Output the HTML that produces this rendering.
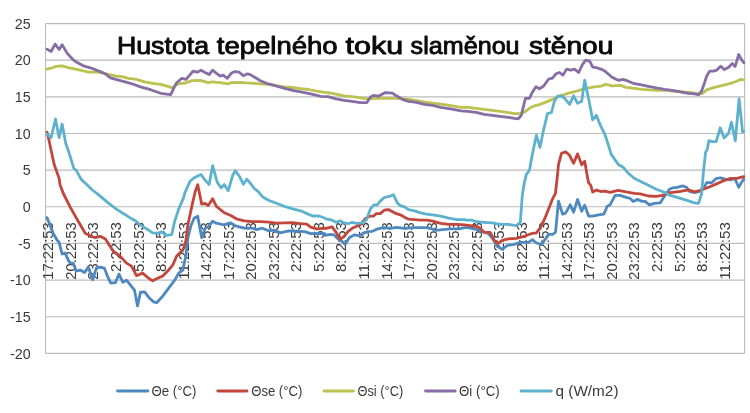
<!DOCTYPE html>
<html lang="cs"><head><meta charset="utf-8"><title>Hustota tepelného toku slaměnou stěnou</title>
<style>
html,body{margin:0;padding:0;background:#fff;}
body{width:750px;height:413px;overflow:hidden;position:relative;}
svg{position:absolute;left:0;top:0;display:block;will-change:transform;}
text{font-family:"Liberation Sans",Arial,sans-serif;fill:#3a3a3a;}
.ax{font-size:14px;}
.ay{font-size:14.3px;}
.title{font-size:24.6px;font-weight:normal;fill:#0a0a0a;stroke:#0a0a0a;stroke-width:0.9px;stroke-linejoin:round;}
.ser{fill:none;stroke-width:2.8;stroke-linejoin:round;stroke-linecap:round;}
.grid{stroke:#bcbcbc;stroke-width:1.15;fill:none;}
</style></head><body>
<svg width="750" height="413" viewBox="0 0 750 413">
<path class="grid" d="M45.5 23.55H744.6 M45.5 60.19H744.6 M45.5 96.84H744.6 M45.5 133.48H744.6 M45.5 170.13H744.6 M45.5 206.77H744.6 M45.5 243.42H744.6 M45.5 280.06H744.6 M45.5 316.71H744.6 M45.5 353.35H744.6 M45.5 23.55V353.35 M744.6 23.55V353.35"/>
<text class="ax ay" x="30.6" y="28.75" text-anchor="end">25</text>
<text class="ax ay" x="30.6" y="65.39" text-anchor="end">20</text>
<text class="ax ay" x="30.6" y="102.04" text-anchor="end">15</text>
<text class="ax ay" x="30.6" y="138.68" text-anchor="end">10</text>
<text class="ax ay" x="30.6" y="175.33" text-anchor="end">5</text>
<text class="ax ay" x="30.6" y="211.97" text-anchor="end">0</text>
<text class="ax ay" x="30.6" y="248.62" text-anchor="end">-5</text>
<text class="ax ay" x="30.6" y="285.26" text-anchor="end">-10</text>
<text class="ax ay" x="30.6" y="321.91" text-anchor="end">-15</text>
<text class="ax ay" x="30.6" y="358.55" text-anchor="end">-20</text>
<text class="ax" transform="translate(53.40 222.2) rotate(-90)" text-anchor="end" textLength="57.6" lengthAdjust="spacingAndGlyphs">17:22:53</text>
<text class="ax" transform="translate(75.94 222.2) rotate(-90)" text-anchor="end" textLength="57.6" lengthAdjust="spacingAndGlyphs">20:22:53</text>
<text class="ax" transform="translate(98.48 222.2) rotate(-90)" text-anchor="end" textLength="57.6" lengthAdjust="spacingAndGlyphs">23:22:53</text>
<text class="ax" transform="translate(121.02 222.2) rotate(-90)" text-anchor="end" textLength="49.9" lengthAdjust="spacingAndGlyphs">2:22:53</text>
<text class="ax" transform="translate(143.56 222.2) rotate(-90)" text-anchor="end" textLength="49.9" lengthAdjust="spacingAndGlyphs">5:22:53</text>
<text class="ax" transform="translate(166.10 222.2) rotate(-90)" text-anchor="end" textLength="49.9" lengthAdjust="spacingAndGlyphs">8:22:53</text>
<text class="ax" transform="translate(188.64 222.2) rotate(-90)" text-anchor="end" textLength="57.6" lengthAdjust="spacingAndGlyphs">11:22:53</text>
<text class="ax" transform="translate(211.18 222.2) rotate(-90)" text-anchor="end" textLength="57.6" lengthAdjust="spacingAndGlyphs">14:22:53</text>
<text class="ax" transform="translate(233.72 222.2) rotate(-90)" text-anchor="end" textLength="57.6" lengthAdjust="spacingAndGlyphs">17:22:53</text>
<text class="ax" transform="translate(256.26 222.2) rotate(-90)" text-anchor="end" textLength="57.6" lengthAdjust="spacingAndGlyphs">20:22:53</text>
<text class="ax" transform="translate(278.80 222.2) rotate(-90)" text-anchor="end" textLength="57.6" lengthAdjust="spacingAndGlyphs">23:22:53</text>
<text class="ax" transform="translate(301.34 222.2) rotate(-90)" text-anchor="end" textLength="49.9" lengthAdjust="spacingAndGlyphs">2:22:53</text>
<text class="ax" transform="translate(323.88 222.2) rotate(-90)" text-anchor="end" textLength="49.9" lengthAdjust="spacingAndGlyphs">5:22:53</text>
<text class="ax" transform="translate(346.42 222.2) rotate(-90)" text-anchor="end" textLength="49.9" lengthAdjust="spacingAndGlyphs">8:22:53</text>
<text class="ax" transform="translate(368.96 222.2) rotate(-90)" text-anchor="end" textLength="57.6" lengthAdjust="spacingAndGlyphs">11:22:53</text>
<text class="ax" transform="translate(391.50 222.2) rotate(-90)" text-anchor="end" textLength="57.6" lengthAdjust="spacingAndGlyphs">14:22:53</text>
<text class="ax" transform="translate(414.04 222.2) rotate(-90)" text-anchor="end" textLength="57.6" lengthAdjust="spacingAndGlyphs">17:22:53</text>
<text class="ax" transform="translate(436.58 222.2) rotate(-90)" text-anchor="end" textLength="57.6" lengthAdjust="spacingAndGlyphs">20:22:53</text>
<text class="ax" transform="translate(459.12 222.2) rotate(-90)" text-anchor="end" textLength="57.6" lengthAdjust="spacingAndGlyphs">23:22:53</text>
<text class="ax" transform="translate(481.66 222.2) rotate(-90)" text-anchor="end" textLength="49.9" lengthAdjust="spacingAndGlyphs">2:22:53</text>
<text class="ax" transform="translate(504.20 222.2) rotate(-90)" text-anchor="end" textLength="49.9" lengthAdjust="spacingAndGlyphs">5:22:53</text>
<text class="ax" transform="translate(526.74 222.2) rotate(-90)" text-anchor="end" textLength="49.9" lengthAdjust="spacingAndGlyphs">8:22:53</text>
<text class="ax" transform="translate(549.28 222.2) rotate(-90)" text-anchor="end" textLength="57.6" lengthAdjust="spacingAndGlyphs">11:22:53</text>
<text class="ax" transform="translate(571.82 222.2) rotate(-90)" text-anchor="end" textLength="57.6" lengthAdjust="spacingAndGlyphs">14:22:53</text>
<text class="ax" transform="translate(594.36 222.2) rotate(-90)" text-anchor="end" textLength="57.6" lengthAdjust="spacingAndGlyphs">17:22:53</text>
<text class="ax" transform="translate(616.90 222.2) rotate(-90)" text-anchor="end" textLength="57.6" lengthAdjust="spacingAndGlyphs">20:22:53</text>
<text class="ax" transform="translate(639.44 222.2) rotate(-90)" text-anchor="end" textLength="57.6" lengthAdjust="spacingAndGlyphs">23:22:53</text>
<text class="ax" transform="translate(661.98 222.2) rotate(-90)" text-anchor="end" textLength="49.9" lengthAdjust="spacingAndGlyphs">2:22:53</text>
<text class="ax" transform="translate(684.52 222.2) rotate(-90)" text-anchor="end" textLength="49.9" lengthAdjust="spacingAndGlyphs">5:22:53</text>
<text class="ax" transform="translate(707.06 222.2) rotate(-90)" text-anchor="end" textLength="49.9" lengthAdjust="spacingAndGlyphs">8:22:53</text>
<text class="ax" transform="translate(729.60 222.2) rotate(-90)" text-anchor="end" textLength="57.6" lengthAdjust="spacingAndGlyphs">11:22:53</text>
<path class="ser" stroke="#4d89c0" d="M47.0 217.6 L50.1 225.2 L53.1 233.3 L57.1 240.3 L59.1 242.3 L62.1 254.0 L65.1 253.0 L68.2 260.1 L70.2 263.1 L73.2 263.1 L76.2 271.1 L80.2 270.1 L84.6 272.5 L88.3 267.1 L92.7 279.8 L96.3 268.1 L100.3 267.1 L104.3 268.1 L107.4 276.1 L110.8 283.2 L115.4 282.6 L119.0 274.1 L122.8 282.2 L126.5 280.2 L130.5 285.2 L134.5 290.2 L137.5 305.9 L140.5 292.2 L144.6 291.8 L149.6 298.3 L153.6 301.9 L156.6 302.7 L162.7 296.2 L168.7 288.2 L174.7 280.2 L178.7 273.1 L182.8 270.1 L185.8 256.0 L188.0 237.3 L191.1 225.2 L194.1 218.2 L197.7 216.2 L201.7 237.7 L205.1 228.2 L208.2 226.8 L212.6 221.2 L216.2 223.2 L224.2 224.8 L230.3 222.8 L236.3 226.2 L244.3 228.2 L252.4 228.2 L256.4 229.6 L262.4 228.2 L268.5 230.8 L274.5 230.2 L280.5 232.9 L288.6 230.8 L296.6 231.2 L304.7 231.7 L310.7 233.7 L318.7 233.3 L324.8 233.7 L325.0 235.3 L330.1 234.3 L334.1 234.9 L338.1 238.9 L342.1 241.4 L345.1 244.4 L349.2 237.7 L354.2 234.9 L359.2 235.7 L363.2 233.3 L367.3 231.7 L372.3 231.3 L377.3 228.9 L384.3 227.7 L390.4 228.3 L396.4 227.3 L404.5 228.3 L412.5 227.7 L420.5 227.7 L428.6 227.7 L435.6 230.3 L442.7 229.7 L450.7 228.9 L458.7 228.9 L464.8 227.7 L468.0 227.7 L476.1 229.3 L482.1 231.7 L488.2 233.3 L493.2 239.3 L497.2 246.4 L502.2 249.4 L507.3 245.4 L514.3 244.4 L520.3 242.4 L528.4 242.4 L532.4 239.7 L536.4 243.0 L541.4 244.4 L545.5 238.9 L548.5 234.3 L552.5 234.3 L555.5 232.3 L558.5 201.1 L562.6 214.2 L565.6 213.2 L570.2 204.8 L573.6 212.2 L577.6 199.5 L581.7 211.2 L584.7 205.2 L588.7 216.2 L592.7 216.2 L598.7 214.8 L603.8 214.2 L606.8 207.2 L607.0 206.4 L610.1 204.8 L615.1 195.4 L620.1 195.4 L626.1 197.4 L630.2 198.4 L633.2 201.4 L637.2 199.4 L642.2 201.4 L645.2 201.4 L649.3 204.8 L654.3 203.4 L660.3 202.8 L664.3 196.4 L669.4 189.3 L672.4 187.9 L677.4 187.3 L682.4 185.9 L686.5 187.3 L689.5 191.3 L694.5 192.7 L699.5 191.3 L703.6 188.3 L706.6 182.7 L711.6 182.7 L716.6 178.3 L720.7 177.9 L725.7 179.3 L730.7 179.9 L734.7 178.3 L738.7 187.3 L741.8 181.9 L743.8 179.3"/>
<path class="ser" stroke="#c3463c" d="M47.0 132.1 L49.0 140.2 L51.1 150.2 L54.1 164.3 L59.1 178.4 L60.1 185.0 L63.1 193.0 L70.2 207.1 L78.2 221.2 L85.2 233.3 L91.3 236.3 L95.3 237.7 L100.3 236.3 L105.4 238.9 L109.4 245.3 L113.4 251.4 L119.4 255.4 L126.5 263.1 L131.5 266.1 L136.5 275.7 L142.6 273.1 L148.6 278.2 L152.6 280.8 L157.6 278.2 L162.7 276.1 L167.7 271.1 L172.7 265.1 L176.7 256.0 L180.8 252.0 L182.8 250.4 L185.8 241.3 L187.8 225.2 L192.1 205.1 L195.1 192.0 L197.7 184.6 L201.7 204.1 L205.1 203.5 L208.2 205.5 L212.6 198.7 L216.2 206.1 L220.2 209.5 L224.2 212.7 L230.3 215.2 L236.3 218.8 L244.3 220.8 L252.4 221.6 L260.4 221.6 L268.5 222.2 L276.5 223.2 L284.6 222.8 L292.6 222.6 L300.7 223.6 L306.7 224.2 L310.7 227.2 L316.7 228.8 L324.8 228.2 L326.0 228.3 L332.1 226.9 L336.1 232.3 L340.1 239.3 L344.1 236.3 L348.2 231.3 L353.2 227.7 L360.2 224.9 L365.2 218.8 L369.3 216.2 L373.3 216.2 L376.3 213.6 L380.3 213.6 L384.3 210.2 L388.4 209.6 L394.4 212.8 L400.4 214.8 L404.5 217.2 L408.5 219.2 L414.5 219.6 L420.5 220.2 L426.6 220.2 L432.6 221.2 L440.7 223.3 L448.7 224.3 L456.7 224.3 L464.8 224.9 L468.0 225.3 L476.1 226.3 L480.1 228.3 L484.1 232.3 L490.2 232.3 L494.2 240.4 L498.2 243.4 L502.2 240.4 L508.3 238.9 L516.3 238.3 L524.3 236.3 L532.4 233.3 L536.4 232.9 L540.4 227.7 L544.5 219.2 L548.5 209.2 L552.5 199.1 L555.5 193.1 L557.5 175.0 L558.5 164.3 L561.5 153.3 L565.6 151.9 L569.6 155.3 L573.6 163.3 L577.6 153.9 L581.7 164.7 L584.7 161.3 L587.7 178.4 L588.7 183.0 L590.7 185.1 L592.7 192.1 L596.7 190.1 L600.8 191.5 L604.8 191.1 L610.1 192.3 L618.1 190.3 L626.1 191.9 L634.2 193.3 L640.2 193.9 L648.3 196.0 L656.3 196.4 L662.3 195.4 L670.4 192.7 L680.4 191.3 L688.5 189.9 L694.5 191.9 L700.5 190.3 L708.6 187.3 L716.6 183.9 L724.7 180.3 L730.7 178.3 L736.7 178.3 L740.8 177.3 L743.8 176.7"/>
<path class="ser" stroke="#bbc24f" d="M47.0 69.2 L51.1 68.2 L56.1 66.4 L62.1 65.8 L68.2 67.6 L80.2 70.2 L88.3 72.2 L98.3 72.2 L106.4 73.8 L116.4 76.2 L122.4 76.7 L128.5 78.3 L136.5 79.3 L144.6 81.9 L152.6 83.3 L160.7 84.3 L168.7 86.7 L172.7 87.9 L176.7 84.3 L180.8 83.3 L184.8 83.3 L186.0 82.7 L192.1 80.7 L200.1 80.3 L208.2 82.7 L212.2 81.9 L220.2 82.7 L228.3 83.9 L232.3 82.3 L236.3 82.7 L240.3 82.3 L246.4 82.9 L254.4 83.3 L260.4 83.9 L268.5 84.3 L276.5 85.9 L284.6 86.9 L292.6 87.5 L300.7 88.7 L308.7 89.5 L316.7 91.1 L324.8 92.3 L328.0 92.6 L336.1 94.2 L344.1 95.8 L352.2 96.7 L360.2 97.9 L368.3 98.9 L376.3 98.3 L386.4 98.3 L396.4 98.3 L404.5 98.9 L412.5 99.9 L420.5 101.3 L428.6 102.7 L436.6 103.7 L444.7 104.7 L452.7 105.9 L460.8 107.3 L468.0 107.3 L476.1 108.3 L484.1 109.3 L492.2 110.3 L500.2 111.3 L508.3 112.7 L514.3 113.7 L520.3 113.7 L524.3 112.3 L529.4 108.3 L534.4 105.9 L540.4 104.3 L546.5 101.9 L552.5 99.3 L560.5 95.8 L568.6 93.2 L576.6 91.2 L584.7 88.6 L592.7 87.2 L600.8 86.2 L604.8 84.6 L606.0 84.3 L612.1 85.9 L620.1 85.3 L626.1 87.3 L634.2 88.3 L642.2 89.3 L650.3 89.9 L658.3 90.3 L666.4 90.3 L674.4 91.3 L682.4 91.9 L690.5 92.7 L698.5 93.9 L702.6 93.3 L706.6 89.9 L712.6 87.9 L720.7 85.9 L728.7 83.9 L732.7 82.7 L736.7 81.3 L740.8 79.3 L743.8 79.9"/>
<path class="ser" stroke="#886ca4" d="M47.0 49.1 L51.1 51.5 L55.1 44.1 L59.1 49.5 L62.1 44.7 L67.1 53.1 L73.2 59.8 L77.2 62.6 L84.2 66.2 L90.3 67.8 L100.3 71.6 L106.4 74.6 L110.4 77.9 L120.4 80.7 L130.5 83.3 L140.5 86.9 L150.6 89.7 L160.7 93.3 L170.7 94.7 L173.7 88.3 L176.7 82.7 L181.8 78.3 L186.0 79.3 L190.1 74.6 L193.1 71.2 L197.1 72.2 L201.1 70.2 L205.1 72.6 L209.2 74.6 L212.6 70.2 L216.2 73.2 L220.2 76.2 L223.2 75.2 L227.3 78.3 L231.3 73.2 L234.7 71.6 L239.3 72.2 L243.3 75.8 L247.4 73.8 L250.4 74.6 L256.4 78.3 L260.4 80.7 L266.5 83.3 L274.5 85.3 L284.6 88.3 L292.6 90.3 L300.7 91.9 L310.7 93.9 L320.8 96.4 L328.0 96.7 L336.1 98.9 L344.1 100.3 L352.2 101.3 L360.2 102.7 L366.7 102.7 L370.3 97.3 L373.3 95.4 L378.3 96.2 L385.4 92.6 L392.4 93.2 L396.4 95.8 L402.4 99.3 L408.5 101.3 L416.5 102.3 L424.6 104.3 L432.6 105.3 L440.7 107.3 L450.7 108.9 L460.8 110.9 L468.0 111.3 L476.1 112.3 L484.1 114.3 L492.2 115.4 L500.2 116.4 L508.3 117.4 L514.3 118.4 L518.3 118.8 L521.3 115.4 L525.4 98.3 L529.4 98.3 L532.4 92.2 L536.0 86.6 L539.4 88.8 L543.5 86.2 L548.5 79.2 L552.5 78.2 L556.1 73.7 L559.5 72.5 L563.0 75.1 L566.6 69.1 L570.6 70.1 L574.6 69.1 L578.6 72.5 L582.7 64.1 L585.7 60.1 L589.7 61.1 L592.7 67.1 L596.7 67.7 L600.8 69.1 L604.8 71.1 L608.0 73.8 L612.1 77.3 L616.1 79.3 L619.1 80.3 L622.5 79.3 L627.1 80.7 L633.2 83.3 L640.2 84.7 L648.3 86.3 L656.3 87.9 L664.3 89.3 L672.4 90.3 L680.4 91.9 L688.5 93.3 L694.5 93.9 L698.5 94.7 L701.5 91.3 L704.6 82.7 L706.6 76.2 L709.6 71.2 L713.6 71.2 L716.6 70.2 L720.7 66.2 L724.3 69.6 L728.7 67.2 L732.3 63.6 L735.1 66.6 L738.7 54.5 L741.8 60.2 L743.8 62.6"/>
<path class="ser" stroke="#5cb2ce" d="M47.0 134.1 L51.1 137.7 L55.5 119.0 L59.1 137.7 L62.1 124.1 L65.7 143.2 L69.2 153.2 L73.8 168.3 L76.2 170.3 L81.2 179.4 L88.3 186.0 L92.3 190.0 L100.3 196.1 L108.4 203.1 L116.4 209.1 L124.5 214.2 L130.5 218.2 L135.5 220.8 L138.5 223.6 L144.6 227.6 L149.6 230.8 L152.6 232.9 L157.6 233.3 L161.7 231.7 L165.7 235.3 L171.7 234.7 L174.7 221.2 L178.7 209.1 L183.8 197.1 L185.0 192.3 L190.1 181.2 L194.1 177.8 L201.1 174.6 L205.1 180.2 L209.2 184.6 L212.6 165.7 L217.2 182.2 L221.2 187.9 L224.2 184.6 L228.3 190.7 L232.7 175.2 L235.3 170.6 L239.3 176.2 L243.3 184.2 L246.8 179.2 L250.4 183.2 L254.4 188.7 L258.0 191.3 L262.4 196.7 L268.5 200.3 L276.5 203.3 L284.6 206.4 L292.6 208.8 L300.7 210.8 L308.7 214.4 L312.7 216.0 L318.7 216.0 L324.8 218.0 L326.0 218.8 L332.1 220.2 L336.1 222.3 L340.1 220.8 L344.1 222.9 L348.2 223.7 L352.2 222.3 L356.2 223.3 L362.2 222.9 L366.2 220.2 L370.3 209.2 L373.9 204.8 L377.3 204.8 L380.3 201.1 L384.3 197.5 L388.4 196.7 L393.4 194.7 L397.4 203.2 L400.4 205.6 L404.5 206.8 L408.5 209.6 L414.5 210.8 L420.5 212.8 L426.6 214.2 L432.6 214.8 L440.7 216.2 L448.7 218.2 L456.7 219.6 L464.8 219.6 L466.0 220.2 L472.1 220.2 L476.1 221.7 L484.1 222.3 L492.2 222.9 L500.2 224.3 L508.3 224.3 L516.3 225.7 L520.3 222.3 L522.3 195.1 L524.3 183.0 L526.4 174.4 L529.4 170.4 L532.4 154.3 L536.4 135.2 L540.0 147.3 L543.5 130.2 L547.5 113.7 L551.5 112.5 L554.5 101.0 L557.5 96.2 L560.5 95.8 L564.6 98.3 L569.6 104.3 L573.6 95.8 L577.6 103.3 L581.7 101.3 L584.7 80.2 L588.7 99.3 L592.7 119.9 L596.3 115.3 L600.8 126.1 L604.8 134.2 L607.8 143.2 L611.1 154.1 L618.1 164.2 L623.1 167.2 L628.2 173.2 L634.2 178.3 L640.2 181.3 L648.3 185.3 L656.3 189.3 L664.3 192.3 L670.4 195.4 L680.4 198.4 L688.5 200.8 L694.5 202.8 L698.5 203.4 L701.5 194.3 L703.6 170.2 L705.6 152.1 L707.1 150.0 L708.9 140.6 L712.5 141.6 L716.2 141.6 L720.2 127.8 L724.1 137.9 L728.5 133.6 L731.4 122.3 L735.3 140.8 L739.1 99.0 L742.6 132.1 L743.8 131.4"/>
<text class="title" y="53.8"><tspan x="116.9" textLength="92.3" lengthAdjust="spacingAndGlyphs">Hustota</tspan> <tspan x="216.8" textLength="120.8" lengthAdjust="spacingAndGlyphs">tepelného</tspan> <tspan x="345.6" textLength="57.6" lengthAdjust="spacingAndGlyphs">toku</tspan> <tspan x="410.6" textLength="109.0" lengthAdjust="spacingAndGlyphs">slaměnou</tspan> <tspan x="529.0" textLength="84.3" lengthAdjust="spacingAndGlyphs">stěnou</tspan></text>
<path class="ser" stroke="#4d89c0" d="M117.5 391H147.8"/>
<text class="ax" x="151.5" y="395.9" textLength="45.0" lengthAdjust="spacingAndGlyphs">Θe (°C)</text>
<path class="ser" stroke="#c3463c" d="M217.8 391H247.0"/>
<text class="ax" x="251.2" y="395.9" textLength="51.1" lengthAdjust="spacingAndGlyphs">Θse (°C)</text>
<path class="ser" stroke="#bbc24f" d="M324.0 391H353.5"/>
<text class="ax" x="357.5" y="395.9" textLength="45.7" lengthAdjust="spacingAndGlyphs">Θsi (°C)</text>
<path class="ser" stroke="#886ca4" d="M425.5 391H455.2"/>
<text class="ax" x="459" y="395.9" textLength="40.7" lengthAdjust="spacingAndGlyphs">Θi (°C)</text>
<path class="ser" stroke="#5cb2ce" d="M521.0 391H551.3"/>
<text class="ax" x="555.5" y="395.9" textLength="63.0" lengthAdjust="spacingAndGlyphs">q (W/m2)</text>
</svg></body></html>
